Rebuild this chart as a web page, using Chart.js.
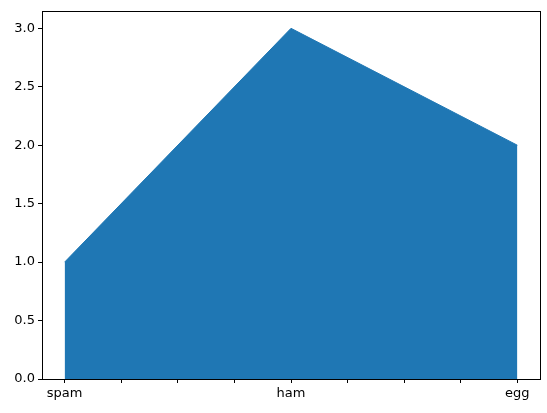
<!DOCTYPE html>
<html>
<head>
<meta charset="utf-8">
<script src="https://cdn.jsdelivr.net/npm/chart.js@4"></script>
<style>
html,body{margin:0;padding:0;background:#fff;}
#wrap{width:547px;height:413px;}
</style>
</head>
<body>
<div id="wrap"><canvas id="c" width="547" height="413"></canvas></div>
<script>
var categories=['spam','ham','egg'];
var values=[1,3,2];
var xTicks=[0,0.25,0.5,0.75,1,1.25,1.5,1.75,2];
var yTicks=[0,0.5,1,1.5,2,2.5,3];

var points=categories.map(function(c,i){return {x:i,y:values[i]};});

// box round the plot area
var frame={
    id:'frame',
    afterDraw:function(chart){
        var a=chart.chartArea,ctx=chart.ctx;
        ctx.save();
        ctx.strokeStyle='#000';
        ctx.lineWidth=1;
        ctx.strokeRect(Math.round(a.left)+0.5,Math.round(a.top)+0.5,Math.round(a.right-a.left),Math.round(a.bottom-a.top));
        ctx.restore();
    }
};

Chart.defaults.font.family='"DejaVu Sans"';
Chart.defaults.font.size=13;
Chart.defaults.color='#000';

new Chart(document.getElementById('c'),{
    type:'line',
    data:{
        datasets:[{
            data:points,
            fill:'origin',
            backgroundColor:'#1f77b4',
            borderColor:'#1f77b4',
            borderWidth:1,
            pointRadius:0,
            tension:0
        }]
    },
    options:{
        responsive:false,
        animation:false,
        layout:{padding:{top:10,right:7,left:0,bottom:0}},
        plugins:{legend:{display:false},tooltip:{enabled:false}},
        scales:{
            x:{
                type:'linear',
                min:-0.1,
                max:2.1,
                afterBuildTicks:function(s){s.ticks=xTicks.map(function(v){return {value:v};});},
                afterFit:function(s){s.height=34;},
                border:{display:false},
                grid:{drawOnChartArea:false,tickLength:4,tickColor:'#000',tickWidth:1},
                ticks:{
                    padding:3,
                    maxRotation:0,
                    autoSkip:false,
                    callback:function(v){return Number.isInteger(v)?categories[v]:'';}
                }
            },
            y:{
                min:0,
                max:3.15,
                afterBuildTicks:function(s){s.ticks=yTicks.map(function(v){return {value:v};});},
                afterFit:function(s){s.width=42;},
                border:{display:false},
                grid:{drawOnChartArea:false,tickLength:4,tickColor:'#000',tickWidth:1},
                ticks:{
                    padding:3,
                    callback:function(v){return v.toFixed(1);}
                }
            }
        }
    },
    plugins:[frame]
});
</script>
</body>
</html>
